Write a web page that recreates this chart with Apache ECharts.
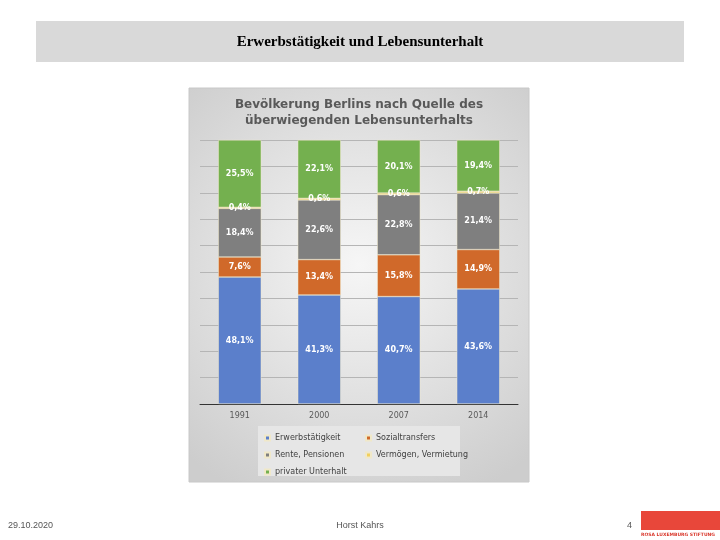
<!DOCTYPE html>
<html>
<head>
<meta charset="utf-8">
<script src="https://cdn.jsdelivr.net/npm/echarts@6/dist/echarts.min.js"></script>
<style>html,body{margin:0;padding:0;background:#fff}#c{width:720px;height:540px}</style>
</head>
<body>
<div id="c"></div>
<script>
var years = ['1991', '2000', '2007', '2014'];
var erwerb = [48.1, 41.3, 40.7, 43.6];
var sozial = [7.6, 13.4, 15.8, 14.9];
var rente = [18.4, 22.6, 22.8, 21.4];
var vermoegen = [0.4, 0.6, 0.6, 0.7];
var privat = [25.5, 22.1, 20.1, 19.4];

var chart = echarts.init(document.getElementById('c'));

function fmt(p) { return p.value.toFixed(1).replace('.', ',') + '%'; }

function bar(name, data, color) {
    return {
        name: name,
        type: 'bar',
        stack: 'all',
        barWidth: 43,
        data: data,
        itemStyle: { color: color, borderColor: '#f0e8c8', borderWidth: 0.5 },
        label: {
            show: true,
            position: 'inside',
            color: '#fff',
            fontSize: 8,
            fontWeight: 'bold',
            fontFamily: 'DejaVu Sans',
            formatter: fmt
        }
    };
}

var option = {
    animation: false,
    graphic: [
        { type: 'rect', z: -10, shape: { x: 36, y: 21, width: 648, height: 41 }, style: { fill: '#d9d9d9' } },
        { type: 'text', z: 10, style: { x: 360, y: 35, text: 'Erwerbstätigkeit und Lebensunterhalt', textAlign: 'center', font: 'bold 15px "Liberation Serif"', fill: '#000' } },
        { type: 'rect', z: -10, shape: { x: 189, y: 88, width: 340, height: 394 },
          style: { stroke: '#c8c8c8', fill: new echarts.graphic.RadialGradient(0.5, 0.45, 0.75, [
              { offset: 0, color: '#f6f6f6' }, { offset: 1, color: '#cdcdcd' }]) } },
        { type: 'text', z: 10, style: { x: 359, y: 97, text: 'Bevölkerung Berlins nach Quelle des\nüberwiegenden Lebensunterhalts', textAlign: 'center', lineHeight: 16, font: 'bold 12px "DejaVu Sans"', fill: '#595959' } },
        { type: 'rect', z: -5, shape: { x: 258, y: 426, width: 202, height: 50 }, style: { fill: '#e6e6e6' } },
        { type: 'text', style: { x: 8, y: 521, text: '29.10.2020', font: '9px "Liberation Sans"', fill: '#555' } },
        { type: 'text', style: { x: 360, y: 521, textAlign: 'center', text: 'Horst Kahrs', font: '9px "Liberation Sans"', fill: '#555' } },
        { type: 'text', style: { x: 627, y: 521, text: '4', font: '9px "Liberation Sans"', fill: '#555' } },
        { type: 'rect', shape: { x: 641, y: 511, width: 79, height: 19 }, style: { fill: '#e8473a' } },
        { type: 'text', style: { x: 641, y: 532, text: 'ROSA LUXEMBURG STIFTUNG', font: 'bold 4.5px "DejaVu Sans"', fill: '#d9382c' } }
    ],
    grid: { left: 200, right: 202, top: 140, bottom: 136 },
    xAxis: {
        type: 'category',
        data: years,
        axisTick: { show: false },
        axisLine: { lineStyle: { color: '#333', width: 1 } },
        axisLabel: { color: '#595959', fontSize: 8, margin: 8, fontFamily: 'DejaVu Sans' }
    },
    yAxis: {
        type: 'value',
        min: 0,
        max: 100,
        interval: 10,
        axisLabel: { show: false },
        splitLine: { lineStyle: { color: '#b5b5b5' } }
    },
    legend: [
        { orient: 'vertical', left: 259, top: 429, icon: 'rect', itemWidth: 5, itemHeight: 5, itemGap: 9,
          textStyle: { fontSize: 8, color: '#404040', fontFamily: 'DejaVu Sans' },
          data: ['Erwerbstätigkeit', 'Rente, Pensionen', 'privater Unterhalt'] },
        { orient: 'vertical', left: 360, top: 429, icon: 'rect', itemWidth: 5, itemHeight: 5, itemGap: 9,
          textStyle: { fontSize: 8, color: '#404040', fontFamily: 'DejaVu Sans' },
          data: ['Sozialtransfers', 'Vermögen, Vermietung'] }
    ],
    series: [
        bar('Erwerbstätigkeit', erwerb, '#5b7fcb'),
        bar('Sozialtransfers', sozial, '#d0692a'),
        bar('Rente, Pensionen', rente, '#7f7f7f'),
        bar('Vermögen, Vermietung', vermoegen, '#f2cf5b'),
        bar('privater Unterhalt', privat, '#74b04f')
    ]
};
chart.setOption(option);
</script>
</body>
</html>
